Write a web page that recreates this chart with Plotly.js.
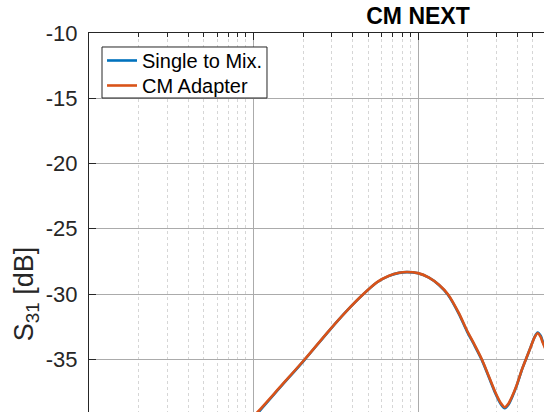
<!DOCTYPE html>
<html>
<head>
<meta charset="utf-8">
<script src="https://cdn.plot.ly/plotly-3.0.1.min.js"></script>
<style>
html,body{margin:0;padding:0;overflow:hidden;background:#fff;width:544px;height:412px;}
#chart{width:860px;height:620px;}
</style>
</head>
<body>
<div id="chart"></div>
<script>
// Frequency in MHz
const freqMHz = [7.08, 10.57, 14.38, 20.38, 28.88, 37.13, 46.42, 56.43, 66.71, 76.70, 85.77,
  100.0, 116.6, 134.1, 152.0, 177.2, 198.2, 221.6, 244.3, 269.4, 297.0, 318.4, 336.7,
  356.0, 371.3, 398.1, 426.8, 457.7, 483.9, 511.8, 533.9, 556.7, 572.3, 622.2];
// CM Adapter (orange)
const cmAdapter = [-41.4, -39.06, -37.18, -35.04, -32.78, -31.25, -30.02, -29.09, -28.60, -28.37, -28.31,
  -28.40, -28.74, -29.29, -30.02, -31.47, -32.78, -33.93, -35.00, -36.30, -37.61, -38.35, -38.68,
  -38.37, -37.91, -36.99, -35.84, -34.85, -34.08, -33.31, -33.01, -33.29, -33.70, -34.77];
// Single to Mix. (blue)
const singleToMix = [-41.5, -39.15, -37.22, -35.06, -32.80, -31.26, -30.03, -29.10, -28.61, -28.38, -28.32,
  -28.41, -28.75, -29.31, -30.06, -31.52, -32.84, -33.99, -35.05, -36.36, -37.68, -38.43, -38.76,
  -38.45, -37.98, -37.02, -35.86, -34.86, -34.07, -33.28, -32.95, -33.20, -33.62, -34.70];

const seriesNames = ['Single to Mix.', 'CM Adapter'];
const colors = ['#0072BD', '#D95319'];
const yTickVals = [-35, -30, -25, -20, -15, -10];
const yTickText = ['-35', '-30', '-25', '-20', '-15', '-10'];

const traces = [
  {x: freqMHz, y: singleToMix, name: seriesNames[0], type: 'scatter', mode: 'lines', legend: 'legend',
   line: {color: colors[0], width: 2.6, shape: 'spline', smoothing: 0.8}},
  {x: freqMHz, y: cmAdapter, name: seriesNames[1], type: 'scatter', mode: 'lines', legend: 'legend2',
   line: {color: colors[1], width: 2.6, shape: 'spline', smoothing: 0.8}}
];

const axisColor = '#262626';
const legendStyle = {xanchor: 'left', yanchor: 'top', bgcolor: 'rgba(0,0,0,0)', borderwidth: 0,
                     font: {size: 20, color: '#000'}};
const layout = {
  width: 860, height: 620,
  margin: {l: 89, r: 113, t: 33, b: 65},
  paper_bgcolor: '#fff', plot_bgcolor: '#fff',
  font: {family: 'Liberation Sans, Arial, sans-serif', color: axisColor},
  title: {text: '<b>CM NEXT</b>', font: {size: 23, color: '#000'}, x: 0.5, xref: 'paper',
          y: 0.975, yref: 'container', yanchor: 'middle'},
  showlegend: true,
  legend: Object.assign({x: 0.0198, y: 0.9847}, legendStyle),
  legend2: Object.assign({x: 0.0198, y: 0.9368}, legendStyle),
  shapes: [
    {type: 'rect', xref: 'paper', yref: 'paper', x0: 0.01976, x1: 0.2705, y0: 0.8755, y1: 0.9732,
     fillcolor: '#fff', line: {color: axisColor, width: 1}, layer: 'above'}
  ],
  xaxis: {type: 'log', range: [0, 4], dtick: 1, showgrid: true, gridcolor: '#ababab', gridwidth: 1,
          showline: true, linecolor: axisColor, linewidth: 1, mirror: 'ticks',
          ticks: 'inside', ticklen: 7, tickcolor: axisColor, zeroline: false,
          showticklabels: false,
          minor: {dtick: 'D1', showgrid: true, gridcolor: '#d6d6d6', griddash: 'dot',
                  ticks: 'inside', ticklen: 4, tickcolor: axisColor}},
  yaxis: {range: [-50, -10], tickvals: yTickVals, ticktext: yTickText,
          showgrid: true, gridcolor: '#ababab', gridwidth: 1,
          showline: true, linecolor: axisColor, linewidth: 1, mirror: 'ticks',
          ticks: 'inside', ticklen: 7, tickcolor: axisColor, zeroline: false,
          tickfont: {size: 22, color: axisColor}, ticklabelstandoff: 6,
          title: {text: 'S<sub>31</sub> [dB]', font: {size: 27, color: axisColor}, standoff: 4}}
};

Plotly.newPlot('chart', traces, layout, {displayModeBar: false, staticPlot: true});
</script>
</body>
</html>
